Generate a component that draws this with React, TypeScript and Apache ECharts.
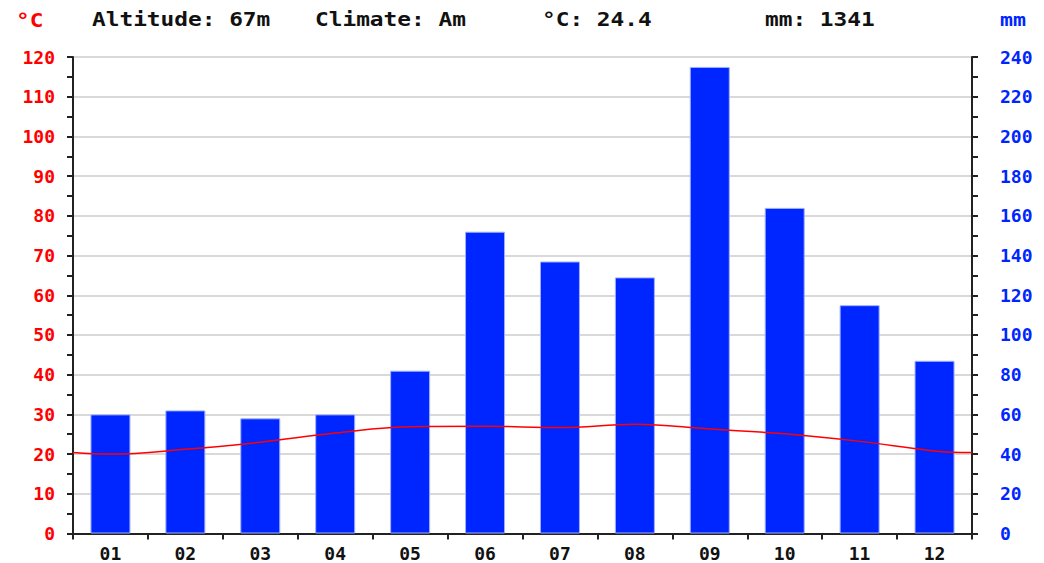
import React, { useEffect, useRef } from "react";
import * as echarts from "echarts";

const months = ["01", "02", "03", "04", "05", "06", "07", "08", "09", "10", "11", "12"];
const precipitation = [60, 62, 58, 60, 82, 152, 137, 129, 235, 164, 115, 87];
const temperature = [20.0, 21.2, 23.0, 25.3, 26.9, 27.0, 26.7, 27.5, 26.3, 25.1, 23.2, 20.8];
const tempLeftEdge = 20.4;
const tempRightEdge = 20.4;
const tempTicks = [0, 10, 20, 30, 40, 50, 60, 70, 80, 90, 100, 110, 120];
const precipTicks = [0, 20, 40, 60, 80, 100, 120, 140, 160, 180, 200, 220, 240];
const headerTexts = ["Altitude: 67m", "Climate: Am", "°C: 24.4", "mm: 1341"];

const FONT = "'DejaVu Sans Mono', 'Liberation Mono', monospace";

export default function App() {
  const ref = useRef<HTMLDivElement>(null);

  useEffect(() => {
    if (!ref.current) return;
    const chart = echarts.init(ref.current, null, { renderer: "svg" });

    const linePoints: [number, number][] = [[0, tempLeftEdge]];
    temperature.forEach((t, i) => linePoints.push([i + 0.5, t]));
    linePoints.push([months.length, tempRightEdge]);

    const headerX = [92, 315, 542, 765];

    chart.setOption({
      animation: false,
      backgroundColor: "#ffffff",
      grid: { left: 73, right: 72, top: 57, bottom: 29.5, containLabel: false },
      xAxis: [
        {
          type: "category",
          data: months,
          boundaryGap: true,
          axisLine: { lineStyle: { color: "#222", width: 2 } },
          axisTick: { show: true, alignWithLabel: false, length: 6, lineStyle: { color: "#222", width: 2 } },
          axisLabel: { color: "#111", fontFamily: FONT, fontWeight: "bold", fontSize: 18, margin: 11 },
          splitLine: { show: false },
        },
        {
          type: "value",
          min: 0,
          max: months.length,
          show: false,
        },
      ],
      yAxis: [
        {
          type: "value",
          min: tempTicks[0],
          max: tempTicks[tempTicks.length - 1],
          interval: tempTicks[1] - tempTicks[0],
          position: "left",
          axisLine: { show: true, lineStyle: { color: "#222", width: 2 } },
          axisTick: { show: true, length: 6, lineStyle: { color: "#222", width: 2 } },
          minorTick: { show: true, splitNumber: 2, length: 6, lineStyle: { color: "#222", width: 2 } },
          axisLabel: { color: "#ff0000", fontFamily: FONT, fontWeight: "bold", fontSize: 18, margin: 18 },
          splitLine: { show: true, lineStyle: { color: "#cccccc", width: 1.5 } },
        },
        {
          type: "value",
          min: precipTicks[0],
          max: precipTicks[precipTicks.length - 1],
          interval: precipTicks[1] - precipTicks[0],
          position: "right",
          axisLine: { show: true, lineStyle: { color: "#222", width: 2 } },
          axisTick: { show: true, length: 6, lineStyle: { color: "#222", width: 2 } },
          minorTick: { show: true, splitNumber: 2, length: 6, lineStyle: { color: "#222", width: 2 } },
          axisLabel: { color: "#0026ff", fontFamily: FONT, fontWeight: "bold", fontSize: 18, margin: 28, align: "left" },
          splitLine: { show: false },
        },
      ],
      series: [
        {
          type: "bar",
          data: precipitation,
          xAxisIndex: 0,
          yAxisIndex: 1,
          barWidth: 40,
          itemStyle: { color: "#0026ff", borderColor: "#9fb0ff", borderWidth: 1 },
        },
        {
          type: "line",
          data: linePoints,
          xAxisIndex: 1,
          yAxisIndex: 0,
          smooth: 0.4,
          showSymbol: false,
          lineStyle: { color: "#ff0000", width: 1.5 },
          z: 5,
        },
      ],
      graphic: [
        {
          type: "text",
          x: 16,
          y: 11,
          scaleX: 1.2,
          style: { text: "°C", fill: "#ff0000", font: `bold 19px ${FONT}` },
        },
        {
          type: "text",
          x: 1000,
          y: 11,
          scaleX: 1.2,
          style: { text: "mm", fill: "#0026ff", font: `bold 18px ${FONT}` },
        },
        ...headerTexts.map((t, i) => ({
          type: "text",
          x: headerX[i],
          y: 10,
          scaleX: 1.2,
          style: { text: t, fill: "#111", font: `bold 19px ${FONT}` },
        })),
      ],
    });

    return () => chart.dispose();
  }, []);

  return <div ref={ref} style={{ width: 1044, height: 563, position: "absolute", left: 0, top: 0 }} />;
}
